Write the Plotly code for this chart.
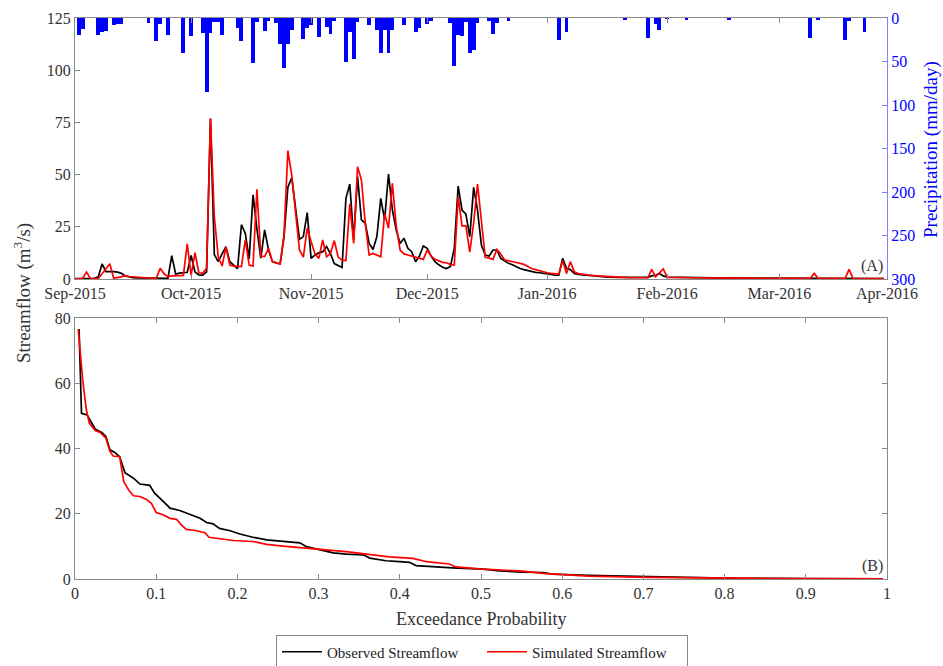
import plotly.graph_objects as go
import pandas as pd

# ---------------- data ----------------
start_date = "2015-09-01"
axis_end_day = 209.8  # right edge of panel A, in days after start_date

month_ticks = ["2015-09-01", "2015-10-01", "2015-11-01", "2015-12-01",
               "2016-01-01", "2016-02-01", "2016-03-01"]
month_labels = ["Sep-2015", "Oct-2015", "Nov-2015", "Dec-2015",
                "Jan-2016", "Feb-2016", "Mar-2016", "Apr-2016"]

# observed streamflow (m3/s): day offset from start_date, value
obs_day = [0, 1, 2, 3, 4, 5, 6, 7, 8, 9, 10, 11, 12, 13, 14, 15, 16, 17, 18, 19,
           20, 21, 22, 23, 24, 25, 26, 27, 28, 29, 30, 31, 32, 33, 34, 35, 36, 37, 38, 39,
           40, 41, 42, 43, 44, 45, 46, 47, 48, 49, 50, 51, 52, 53, 54, 55, 56, 57, 58, 59,
           60, 61, 62, 63, 64, 65, 66, 67, 68, 69, 70, 71, 72, 73, 74, 75, 76, 77, 78, 79,
           80, 81, 82, 83, 84, 85, 86, 87, 88, 89, 90, 91, 92, 93, 94, 95, 96, 97, 98, 99,
           100, 101, 102, 103, 104, 105, 106, 107, 108, 109, 110, 111, 112, 113, 114, 115,
           116, 117, 118, 119, 120, 121, 122, 123, 124, 125, 126, 127, 128, 129, 130, 131,
           132, 133, 135, 137, 140, 143, 146, 148, 149, 150, 151, 152, 153, 155, 158, 160,
           165, 175, 185, 195, 205, 209]
obs_flow = [0.2, 0.2, 0.2, 0.2, 0.3, 0.3, 1.0, 7.2, 3.5, 3.6, 3.5, 3.3, 2.7, 1.5, 0.9, 0.6, 0.5, 0.5, 0.4, 0.4,
            0.5, 0.4, 0.4, 0.3, 0.3, 11.2, 2.4, 2.8, 3.0, 3.2, 11.3, 3.4, 2.0, 1.8, 3.4, 76.6, 11.7, 8.4, 12.0, 15.5,
            8.3, 6.5, 5.0, 26.0, 21.8, 9.6, 40.3, 24.0, 10.0, 23.5, 14.0, 8.3, 7.8, 7.2, 20.0, 44.0, 48.5, 35.0, 19.0, 20.3,
            31.8, 9.9, 11.5, 12.5, 13.1, 15.5, 12.2, 7.4, 6.5, 5.5, 38.6, 45.5, 18.7, 49.0, 28.3, 26.7, 17.0, 14.1, 20.3, 38.6,
            28.3, 50.3, 33.1, 23.5, 17.0, 19.5, 14.7, 13.1, 8.3, 11.0, 15.8, 14.7, 11.0, 8.3, 6.8, 5.6, 5.0, 6.0, 14.7, 44.5,
            33.0, 31.1, 20.3, 43.9, 33.0, 16.3, 11.5, 11.0, 13.9, 13.9, 9.9, 8.5, 7.5, 6.8, 5.8, 5.0,
            4.5, 4.0, 3.5, 3.2, 3.0, 2.8, 2.6, 2.2, 1.8, 1.8, 9.9, 5.0, 4.5, 2.6, 2.2, 2.0,
            1.8, 1.6, 1.4, 1.0, 0.8, 0.7, 0.7, 0.8, 1.5, 1.8, 2.6, 1.5, 0.9, 0.8, 1.0, 0.8,
            0.5, 0.4, 0.3, 0.3, 0.2, 0.2]

# simulated streamflow (m3/s)
sim_day = [0, 1, 2, 3, 4, 5, 6, 7, 8, 9, 10, 11, 12, 13, 14, 15, 16, 17, 18, 19,
           20, 21, 22, 23, 24, 25, 26, 27, 28, 29, 30, 31, 32, 33, 34, 35, 36, 37, 38, 39,
           40, 41, 42, 43, 44, 45, 46, 47, 48, 49, 50, 51, 52, 53, 54, 55, 56, 57, 58, 59,
           60, 61, 62, 63, 64, 65, 66, 67, 68, 69, 70, 71, 72, 73, 74, 75, 76, 77, 78, 79,
           80, 81, 82, 83, 84, 85, 86, 87, 88, 89, 90, 91, 92, 93, 94, 95, 96, 97, 98, 99,
           100, 101, 102, 103, 104, 105, 106, 107, 108, 109, 110, 111, 112, 113, 114, 115,
           116, 117, 118, 119, 120, 121, 122, 123, 124, 125, 126, 127, 128, 129, 130, 131,
           133, 136, 139, 143, 148, 149, 150, 152, 153, 155, 160, 170, 180, 190, 191, 192,
           199, 200, 201, 209]
sim_flow = [0.1, 0.1, 0.5, 3.3, 0.2, 0.1, 0.2, 2.5, 5.0, 7.3, 0.3, 0.8, 1.3, 1.5, 1.2, 1.0, 0.8, 0.6, 0.5, 0.4,
            0.3, 0.3, 5.1, 2.5, 1.1, 1.5, 1.5, 1.6, 1.7, 16.8, 1.7, 12.6, 3.0, 2.8, 5.1, 77.0, 29.8, 10.7, 6.2, 15.2,
            6.7, 6.2, 6.0, 5.9, 18.7, 6.7, 6.2, 43.0, 11.0, 10.7, 14.7, 8.3, 7.6, 7.2, 21.0, 61.5, 49.8, 30.0, 13.9, 10.5,
            24.3, 18.0, 12.0, 9.9, 18.7, 10.7, 12.2, 18.4, 10.5, 9.0, 8.8, 36.0, 17.0, 53.8, 47.4, 26.7, 11.5, 12.2, 11.5, 10.7,
            31.4, 24.3, 45.8, 25.4, 13.9, 12.0, 11.5, 11.0, 10.7, 10.0, 9.4, 13.9, 11.0, 9.4, 8.8, 8.0, 7.8, 7.0, 6.7, 39.4,
            25.4, 25.4, 12.9, 26.7, 45.5, 26.7, 10.4, 10.0, 9.4, 14.2, 12.0, 9.1, 8.8, 8.3, 7.9, 7.5,
            7.0, 6.0, 5.0, 4.5, 3.9, 3.5, 3.0, 2.7, 2.5, 2.3, 8.8, 2.6, 8.3, 3.4, 2.6, 2.3,
            1.8, 1.4, 1.0, 0.7, 0.6, 4.6, 1.0, 4.8, 0.8, 0.7, 0.6, 0.4, 0.3, 0.3, 2.7, 0.3,
            0.3, 4.6, 0.3, 0.2]

# daily precipitation (mm/day), only rainy days
rain_day = [1, 2, 6, 7, 8, 10, 11, 12, 19, 21, 22, 24, 28, 30, 33, 34, 35, 36, 37, 38,
            42, 43, 46, 47, 49, 50, 52, 53, 54, 55, 56, 59, 60, 61, 63, 65, 66, 67, 70, 71,
            72, 73, 76, 78, 79, 80, 81, 82, 85, 88, 89, 91, 92, 97, 98, 99, 100, 101, 102, 103,
            104, 107, 108, 109, 112, 125, 127, 142, 148, 150, 151, 153, 158, 169, 190, 192, 199, 200, 204]
rain_mm = [19, 13, 20, 15.7, 14.8, 8, 7, 7, 6, 27, 7, 19.5, 40, 20.7, 17.6, 84.7, 17.6, 5, 4.7, 19.5,
           12, 27, 52, 5, 15, 4, 6, 30, 58, 30, 14, 24, 12, 8, 21.5, 10, 18.4, 4, 50, 15.7,
           47.5, 5, 8, 13.8, 40.6, 14, 40, 14, 8, 15.7, 12, 7, 4, 6, 55, 19.5, 20.7, 4.5, 40, 36.8,
           6, 3.5, 18.8, 6, 4, 25, 15.7, 2, 23.4, 7, 13.8, 1, 2, 1.5, 23.4, 2, 25.3, 3, 15.7]

# flow duration curves (panel B)
obs_prob = [0.005, 0.008, 0.015, 0.021, 0.025, 0.033, 0.038, 0.043, 0.049, 0.055, 0.0615, 0.072,
            0.08, 0.092, 0.098, 0.109, 0.117, 0.129, 0.141, 0.154, 0.162, 0.170, 0.178, 0.191,
            0.203, 0.219, 0.236, 0.256, 0.277, 0.285, 0.301, 0.318, 0.334, 0.355, 0.363, 0.383,
            0.40, 0.412, 0.42, 0.441, 0.465, 0.502, 0.523, 0.551, 0.576, 0.588, 0.633, 0.707,
            0.774, 0.817, 0.9, 0.995]
obs_q = [76.6, 50.8, 50.3, 47.8, 45.9, 44.9, 43.7, 39.6, 38.8, 37.5, 32.6, 30.9,
         29.1, 28.7, 26.3, 23.7, 21.7, 21.0, 19.9, 18.6, 17.3, 16.9, 15.5, 14.8,
         13.8, 12.8, 12.0, 11.5, 11.1, 9.9, 9.0, 8.0, 7.6, 7.4, 6.4, 5.6,
         5.3, 5.1, 4.1, 3.7, 3.4, 3.0, 2.5, 2.1, 2.0, 1.5, 1.1, 0.7,
         0.4, 0.2, 0.1, 0.05]
sim_prob = [0.004, 0.0095, 0.014, 0.0176, 0.025, 0.031, 0.038, 0.043, 0.047, 0.055, 0.06, 0.066,
            0.072, 0.08, 0.088, 0.094, 0.1, 0.109, 0.117, 0.125, 0.131, 0.137, 0.150, 0.16,
            0.165, 0.182, 0.195, 0.219, 0.236, 0.256, 0.277, 0.301, 0.334, 0.359, 0.387, 0.416,
            0.433, 0.461, 0.469, 0.498, 0.519, 0.551, 0.576, 0.6, 0.633, 0.707, 0.774, 0.817,
            0.9, 0.995]
sim_q = [76.6, 61.0, 51.8, 47.8, 45.5, 44.9, 43.2, 39.1, 37.7, 37.5, 29.9, 27.3,
         25.5, 25.3, 24.4, 23.2, 20.4, 19.6, 18.6, 18.3, 16.6, 15.2, 14.8, 14.2,
         12.8, 12.2, 11.8, 11.5, 10.6, 10.1, 9.7, 9.1, 8.4, 7.6, 6.8, 6.3,
         5.3, 4.6, 3.7, 3.1, 2.8, 2.4, 1.7, 1.3, 0.9, 0.5, 0.3, 0.2,
         0.1, 0.05]

prob_ticks = [0, 0.1, 0.2, 0.3, 0.4, 0.5, 0.6, 0.7, 0.8, 0.9, 1]
prob_labels = ["0", "0.1", "0.2", "0.3", "0.4", "0.5", "0.6", "0.7", "0.8", "0.9", "1"]

# ---------------- figure ----------------
W, H = 943, 666


def px(x):   # window pixel -> paper x
    return x / W


def py(y):   # window pixel -> paper y
    return 1 - y / H


t0 = pd.Timestamp(start_date)


def to_dates(days):
    return [t0 + pd.Timedelta(days=d) for d in days]


x_end = t0 + pd.Timedelta(days=axis_end_day)

FONT = "Liberation Serif, Times New Roman, serif"
GREY = "#8a8a8a"
TXT = "#333333"
BLUE = "#0000ff"

fig = go.Figure()

fig.add_trace(go.Bar(x=to_dates(rain_day), y=rain_mm, xaxis="x", yaxis="y2",
                     width=86400000, marker=dict(color=BLUE, line=dict(width=0)),
                     showlegend=False, hoverinfo="skip"))
fig.add_trace(go.Scatter(x=to_dates(obs_day), y=obs_flow, xaxis="x", yaxis="y",
                         mode="lines", line=dict(color="black", width=1.7),
                         name="Observed Streamflow"))
fig.add_trace(go.Scatter(x=to_dates(sim_day), y=sim_flow, xaxis="x", yaxis="y",
                         mode="lines", line=dict(color="#ff0000", width=1.7),
                         name="Simulated Streamflow"))
fig.add_trace(go.Scatter(x=obs_prob, y=obs_q, xaxis="x2", yaxis="y3",
                         mode="lines", line=dict(color="black", width=1.7),
                         showlegend=False))
fig.add_trace(go.Scatter(x=sim_prob, y=sim_q, xaxis="x2", yaxis="y3",
                         mode="lines", line=dict(color="#ff0000", width=1.7),
                         showlegend=False))

xl, xr = px(75), px(887)
topA, botA = py(18), py(279)
topB, botB = py(318), py(579)

axis_common = dict(showgrid=False, zeroline=False, showline=True, linecolor=GREY,
                   linewidth=1, ticks="inside", ticklen=5, tickcolor=GREY,
                   tickfont=dict(family=FONT, size=16, color=TXT))

fig.update_layout(
    width=W, height=H, template="none",
    margin=dict(l=0, r=0, t=0, b=0, autoexpand=False),
    paper_bgcolor="white", plot_bgcolor="white",
    font=dict(family=FONT, color=TXT),
    bargap=0,
    xaxis=dict(domain=[xl, xr], anchor="y", type="date",
               range=[t0, x_end],
               tickvals=[pd.Timestamp(m) for m in month_ticks] + [x_end],
               ticktext=month_labels, mirror="ticks", **axis_common),
    yaxis=dict(domain=[botA, topA], anchor="x", range=[0, 125],
               tickvals=[0, 25, 50, 75, 100, 125], mirror=False, **axis_common),
    yaxis2=dict(overlaying="y", side="right", anchor="x", range=[300, 0],
                tickvals=[0, 50, 100, 150, 200, 250, 300],
                showgrid=False, zeroline=False, showline=True, linecolor="#8080ff",
                linewidth=1, ticks="inside", ticklen=5, tickcolor="#8080ff",
                tickfont=dict(family=FONT, size=16, color=BLUE)),
    xaxis2=dict(domain=[xl, xr], anchor="y3", range=[0, 1],
                tickvals=prob_ticks, ticktext=prob_labels, mirror="ticks", **axis_common),
    yaxis3=dict(domain=[botB, topB], anchor="x2", range=[0, 80],
                tickvals=[0, 20, 40, 60, 80], mirror="ticks", **axis_common),
    legend=dict(orientation="h", x=px(482), xanchor="center", y=py(652), yanchor="middle",
                bordercolor=GREY, borderwidth=1, bgcolor="white",
                font=dict(family=FONT, size=15, color="#222222"),
                itemwidth=40, tracegroupgap=0, entrywidth=150),
    annotations=[
        dict(text="Streamflow (m<sup>3</sup>/s)", x=px(22), y=py(293), xref="paper", yref="paper",
             textangle=-90, showarrow=False, xanchor="center", yanchor="middle",
             font=dict(family=FONT, size=19, color=TXT)),
        dict(text="Precipitation (mm/day)", x=px(931), y=py(150), xref="paper", yref="paper",
             textangle=-90, showarrow=False, xanchor="center", yanchor="middle",
             font=dict(family=FONT, size=19, color=BLUE)),
        dict(text="Exceedance Probability", x=px(481), y=py(619), xref="paper", yref="paper",
             showarrow=False, xanchor="center", yanchor="middle",
             font=dict(family=FONT, size=18, color=TXT)),
        dict(text="(A)", x=px(885), y=py(266), xref="paper", yref="paper",
             showarrow=False, xanchor="right", yanchor="middle",
             font=dict(family=FONT, size=16, color=TXT)),
        dict(text="(B)", x=px(885), y=py(566), xref="paper", yref="paper",
             showarrow=False, xanchor="right", yanchor="middle",
             font=dict(family=FONT, size=16, color=TXT)),
    ],
)

# remove the default 8px page margin so the figure fills the 943x666 window exactly
fig.write_html("out.html",
               config={"displayModeBar": False},
               post_script="document.body.style.margin='0px';"
                           "document.body.style.overflow='hidden';")
